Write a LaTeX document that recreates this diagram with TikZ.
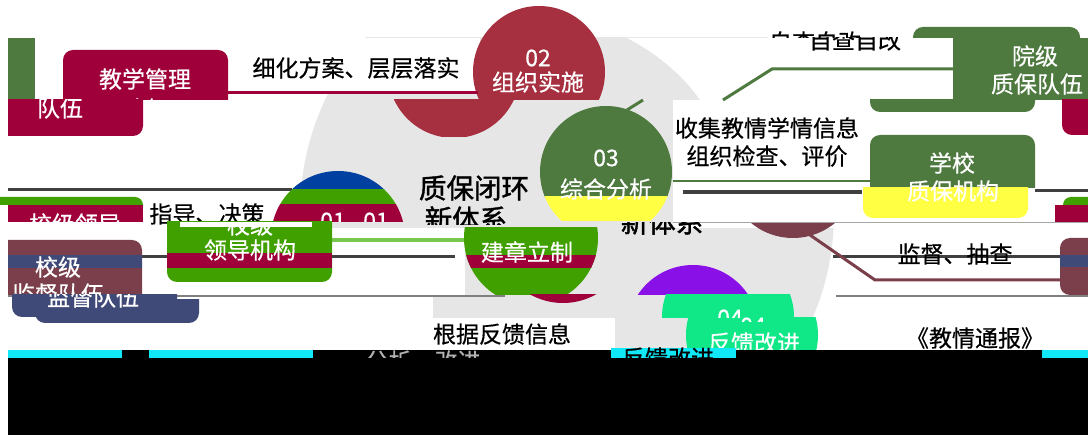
\documentclass[tikz,border=0pt]{standalone}
\usepackage{fontspec}
\setmainfont[FakeBold=0.5]{Noto Sans CJK SC}
\newfontfamily\cjkbold[FakeBold=1.4]{Noto Sans CJK SC}
\definecolor{crim}{RGB}{160,0,58}
\definecolor{redtwo}{RGB}{166,48,64}
\definecolor{gthree}{RGB}{78,122,64}
\definecolor{bgreen}{RGB}{63,160,0}
\definecolor{bone}{RGB}{0,64,160}
\definecolor{brownr}{RGB}{123,63,75}
\definecolor{slate}{RGB}{64,74,120}
\definecolor{yel}{RGB}{255,255,68}
\definecolor{purp}{RGB}{138,16,232}
\definecolor{teal}{RGB}{16,232,136}
\definecolor{cyanb}{RGB}{16,232,248}
\definecolor{disc}{RGB}{230,230,230}
\definecolor{darkl}{RGB}{64,64,64}
\definecolor{lgreen}{RGB}{120,200,80}
\tikzset{
  wt/.style={text=white,font=\fontsize{23}{26}\selectfont,inner sep=0pt,anchor=center},
  bt/.style={text=black,font=\fontsize{23}{26}\selectfont,inner sep=0pt,anchor=center},
  bigt/.style={text=black,font=\cjkbold\fontsize{27.5}{30}\selectfont,inner sep=0pt,anchor=center},
  seg/.style={line width=3pt},
}
\begin{document}
\begin{tikzpicture}[x=1pt,y=-1pt]
\useasboundingbox (0,0) rectangle (1088,435);
\fill[white] (0,0) rectangle (1088,435);
% grey disc
\begin{scope}\clip (0,38) rectangle (1088,350);
\fill[disc] (567,213) circle[radius=267pt];
\end{scope}
% white covers
\fill[white] (300,38) rectangle (480,93);
\fill[white] (627,38) .. controls (660,55) and (685,78) .. (700,100) -- (1088,100) -- (1088,38) -- cycle;
\fill[white] (673,100) rectangle (1088,228);
\fill[white] (300,228) rectangle (465,295);
\fill[white] (300,295) rectangle (433,318);
\fill[white] (300,318) rectangle (615,350);
% glitch lines
\coordinate (la1) at (8,190); \coordinate (la2) at (292,190);
\draw[darkl,seg] (la1) -- (la2);
\coordinate (lb1) at (8,257); \coordinate (lb2) at (455,257);
\draw[darkl,seg] (lb1) -- (lb2);
\coordinate (lc1) at (833,257); \coordinate (lc2) at (1060,257);
\draw[darkl,seg] (lc1) -- (lc2);
\coordinate (ld1) at (8,296); \coordinate (ld2) at (505,296);
\draw[gray,line width=1.5pt] (ld1) -- (ld2);
\coordinate (ld3) at (836,296); \coordinate (ld4) at (1088,296);
\draw[gray,line width=1.5pt] (ld3) -- (ld4);
\coordinate (le1) at (673,223); \coordinate (le2) at (1088,223);
\draw[gray!70,line width=1pt] (le1) -- (le2);
\coordinate (lf1) at (1035,191); \coordinate (lf2) at (1088,191);
\draw[darkl,seg] (lf1) -- (lf2);
% circle 02
\begin{scope}\clip (0,0) rectangle (1088,100);
\fill[redtwo] (539,72) circle[radius=66pt];
\end{scope}
\begin{scope}\clip (0,100) rectangle (1088,137);
\fill[redtwo] (454,72) circle[radius=66pt];
\end{scope}
\coordinate (ca) at (228,93); \coordinate (cb) at (478,93);
\draw[crim,seg] (ca) -- (cb);
\node[wt] (n02) at (538,58) {02};
\node[wt] (n02b) at (538,82) {组织实施};
\node[bt] (xh) at (356,68) {细化方案、层层落实};
% left top boxes
\fill[gthree] (8,38) rectangle (35,100);
\begin{scope}\clip (0,50) rectangle (1088,100);
\fill[crim,rounded corners=10pt] (63,50) rectangle (228,130);
\end{scope}
\node[wt] (jx) at (145,79) {教学管理};
\begin{scope}\clip (0,0) rectangle (1088,100);
\node[wt] (dw1) at (145,109) {队伍};
\end{scope}
\begin{scope}\clip (8,100) rectangle (1088,137);
\fill[crim,rounded corners=10pt] (-20,80) rectangle (143,136);
\node[wt] (dw2) at (60,108) {队伍};
\end{scope}
% circle 03
\begin{scope}\clip (0,100) rectangle (1088,197);
\fill[gthree] (606,172) circle[radius=66pt];
\end{scope}
\begin{scope}\clip (0,197) rectangle (1088,221);
\fill[yel] (606,172) circle[radius=66pt];
\end{scope}
\node[wt] (n03) at (606,158) {03};
\node[wt] (n03b) at (606,189) {综合分析};
\coordinate (gp1) at (627,110); \coordinate (gp2) at (643,100);
\draw[gthree,seg] (gp1) -- (gp2);
\coordinate (gl1) at (673,181); \coordinate (gl2) at (870,181);
\draw[gthree,line width=2.5pt] (gl1) -- (gl2);
\coordinate (dl1) at (683,192); \coordinate (dl2) at (862,192);
\draw[darkl,line width=4pt] (dl1) -- (dl2);
\node[bt] (sj) at (767,128) {收集教情学情信息};
\node[bt] (zz) at (767,156) {组织检查、评价};
% school box
\begin{scope}\clip (0,135) rectangle (1088,188);
\fill[gthree,rounded corners=10pt] (870,135) rectangle (1035,200);
\end{scope}
\begin{scope}\clip (0,188) rectangle (1088,218);
\fill[yel,rounded corners=10pt] (863,170) rectangle (1028,218);
\end{scope}
\node[wt] (xx) at (952,163) {学校};
\node[wt] (zbjg) at (953,191) {质保机构};
% college box
\begin{scope}\clip (0,27) rectangle (1088,38);
\fill[gthree,rounded corners=10pt] (913,27) rectangle (1080,60);
\end{scope}
\fill[gthree] (953,38) rectangle (1088,100);
\begin{scope}\clip (0,100) rectangle (1088,112);
\fill[gthree,rounded corners=10pt] (870,80) rectangle (1035,112);
\end{scope}
\begin{scope}\clip (0,100) rectangle (1088,137);
\fill[crim,rounded corners=10pt] (1062,80) rectangle (1110,135);
\end{scope}
\node[wt] (yj) at (1035,56) {院级};
\node[wt] (zbdw) at (1037,84) {质保队伍};
\coordinate (ga) at (723,100); \coordinate (gb) at (772,69); \coordinate (gc) at (953,69);
\draw[gthree,seg] (ga) -- (gb) -- (gc);
\begin{scope}\clip (0,38) rectangle (1088,52);
\node[bt] (zc1) at (855,40) {自查自改};
\end{scope}
\begin{scope}\clip (0,30) rectangle (1088,38);
\node[bt] (zc2) at (815,42) {自查自改};
\end{scope}
% right edge pieces
\fill[crim] (1055,205) rectangle (1088,222);
\begin{scope}\clip (0,197) rectangle (1088,205);
\fill[bgreen,rounded corners=8pt] (1063,197) rectangle (1100,230);
\end{scope}
\begin{scope}\clip (0,238) rectangle (1088,295);
\fill[brownr,rounded corners=10pt] (1060,238) rectangle (1110,295);
\end{scope}
\fill[slate] (1060,255) rectangle (1088,267);
% circle 01 (top band)
\begin{scope}\clip (0,170) rectangle (1088,190);
\fill[bone] (338,238) circle[radius=67pt];
\end{scope}
\begin{scope}\clip (0,190) rectangle (1088,205);
\fill[bgreen] (338,238) circle[radius=67pt];
\end{scope}
\begin{scope}\clip (0,205) rectangle (1088,222);
\fill[crim] (338,238) circle[radius=67pt];
\node[wt] (n01a) at (333,221) {01};
\node[wt] (n01b) at (376,221) {01};
\end{scope}
\node[bt] (zd) at (207,214) {指导、决策};
% left leadership pieces
\begin{scope}\clip (0,197) rectangle (1088,205);
\fill[bgreen,rounded corners=8pt] (-20,197) rectangle (143,230);
\end{scope}
\fill[crim] (8,205) rectangle (143,222);
\begin{scope}\clip (0,205) rectangle (1088,222);
\node[wt] (xjld) at (75,224) {校级领导};
\end{scope}
\begin{scope}\clip (0,222) rectangle (1088,282);
\fill[bgreen,rounded corners=10pt] (167,200) rectangle (332,282);
\end{scope}
\fill[crim] (167,253) rectangle (332,268);
\fill[white] (180,222) rectangle (312,227);
\begin{scope}\clip (167,227) rectangle (332,282);
\node[wt] (xj1) at (250,225) {校级};
\end{scope}
\node[wt] (ldjg) at (250,250) {领导机构};
\coordinate (lg1) at (332,240); \coordinate (lg2) at (465,240);
\draw[lgreen,line width=4pt] (lg1) -- (lg2);
% supervision pieces
\begin{scope}\clip (8,240) rectangle (1088,295);
\fill[brownr,rounded corners=10pt] (-20,240) rectangle (142,320);
\end{scope}
\fill[slate] (8,255) rectangle (142,268);
\node[wt] (xj2) at (58,267) {校级};
\begin{scope}\clip (0,240) rectangle (1088,295);
\node[wt] (jd1) at (58,294) {监督队伍};
\end{scope}
\begin{scope}\clip (0,295) rectangle (1088,317);
\fill[slate,rounded corners=10pt] (12,280) rectangle (177,317);
\end{scope}
\begin{scope}\clip (0,300) rectangle (1088,323);
\fill[slate,rounded corners=10pt] (35,280) rectangle (199,323);
\end{scope}
\begin{scope}\clip (0,295) rectangle (1088,323);
\node[wt] (jd2) at (93,297) {监督队伍};
\end{scope}
% circle 01 copy
\begin{scope}\clip (463,228) rectangle (1088,295);
\fill[bgreen] (531,238) circle[radius=67pt];
\clip (531,238) circle[radius=67pt];
\fill[crim] (460,255) rectangle (600,268);
\end{scope}
\node[wt] (jzlz) at (527,252) {建章立制};
\begin{scope}\clip (0,295) rectangle (1088,306);
\fill[crim] (563,236) circle[radius=67pt];
\end{scope}
% center text
\node[bigt] (zbbh) at (474,188) {质保闭环};
\begin{scope}\clip (0,150) rectangle (1088,225);
\node[bigt] (xtx1) at (466,219) {新体系};
\end{scope}
\begin{scope}\clip (0,223) rectangle (1088,240);
\node[bigt] (xtx2) at (662,222) {新体系};
\end{scope}
% brown circle piece and line
\begin{scope}\clip (0,224) rectangle (1088,240);
\fill[brownr] (793,172) circle[radius=66pt];
\end{scope}
\coordinate (br1) at (810,235); \coordinate (br2) at (875,280); \coordinate (br3) at (1060,280);
\draw[brownr,seg] (br1) -- (br2) -- (br3);
\node[bt] (jdcc) at (955,254) {监督、抽查};
% circle 04
\begin{scope}\clip (0,250) rectangle (1088,295);
\fill[purp] (693,331) circle[radius=66pt];
\end{scope}
\begin{scope}\clip (0,295) rectangle (1088,318);
\fill[teal] (728,317) circle[radius=66pt];
\end{scope}
\begin{scope}\clip (0,318) rectangle (1088,358);
\fill[teal] (752,335) circle[radius=66pt];
\end{scope}
\begin{scope}\clip (0,290) rectangle (1088,318);
\node[wt] (n04a) at (730,318) {04};
\end{scope}
\begin{scope}\clip (0,314) rectangle (1088,322);
\node[wt] (n04b) at (753,326) {04};
\end{scope}
\begin{scope}\clip (0,320) rectangle (1088,350);
\node[wt] (fkgj) at (754,343) {反馈改进};
\end{scope}
\node[bt] (gjfk) at (502,334) {根据反馈信息};
\node[bt] (jqtb) at (975,338) {《教情通报》};
% bottom band
\fill[black] (8,350) rectangle (1088,435);
\fill[cyanb] (8,350) rectangle (122,358);
\fill[cyanb] (149,350) rectangle (313,358);
\fill[cyanb] (611,348) rectangle (736,358);
\fill[cyanb] (1042,350) rectangle (1088,358);
\begin{scope}\clip (0,350) rectangle (1088,358);
\node[wt,text=gray!60] (fxgj) at (423,361) {分析、改进};
\end{scope}
\begin{scope}\clip (611,346) rectangle (736,358);
\node[bt] (fkgj2) at (668,358) {反馈改进};
\end{scope}
\end{tikzpicture}
\end{document}
